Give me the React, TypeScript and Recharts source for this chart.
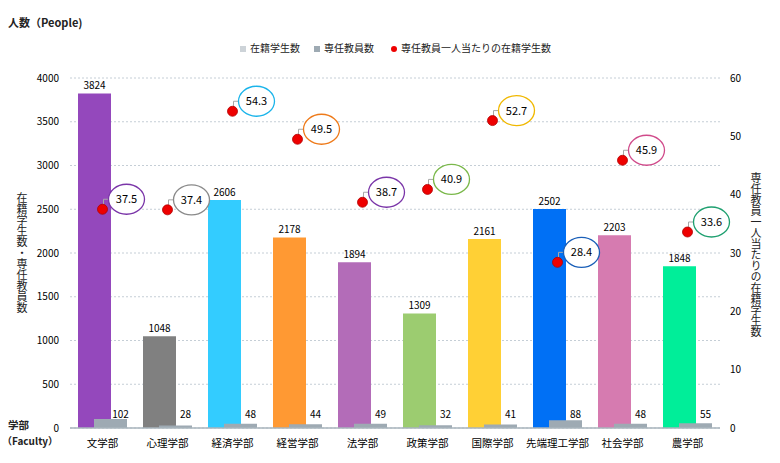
import React from 'react';
import { ComposedChart, Bar, Scatter, XAxis, YAxis, CartesianGrid, Cell, LabelList } from 'recharts';

const faculties = ['文学部', '心理学部', '経済学部', '経営学部', '法学部', '政策学部', '国際学部', '先端理工学部', '社会学部', '農学部'];
const students = [3824, 1048, 2606, 2178, 1894, 1309, 2161, 2502, 2203, 1848];
const staff = [102, 28, 48, 44, 49, 32, 41, 88, 48, 55];
const ratio = [37.5, 37.4, 54.3, 49.5, 38.7, 40.9, 52.7, 28.4, 45.9, 33.6];
const leftTicks = [0, 500, 1000, 1500, 2000, 2500, 3000, 3500, 4000];
const rightTicks = [0, 10, 20, 30, 40, 50, 60];

const barColors = ['#9448bc', '#808080', '#33ccff', '#ff9933', '#b36cb8', '#9ccc70', '#ffd035', '#0070f5', '#d67bb0', '#00ee99'];
const ringColors = ['#7a35a8', '#8a8a8a', '#1ab4ea', '#ee7a1a', '#7a35a8', '#7ab84a', '#f0b800', '#1a5fb8', '#d04a8a', '#1fa070'];

const data = faculties.map((name, i) => ({ name, students: students[i], staff: staff[i], ratio: ratio[i], idx: i }));

const FONT = '"Noto Sans CJK JP", "Noto Sans", sans-serif';

const StaffLabel = (props: any) => {
  const { x, y, width, height, value } = props;
  return (
    <text x={x + width / 2 + 10} y={y + height - 10} textAnchor="middle" fontSize={10} fill="#000" fontFamily={FONT}>
      {value}
    </text>
  );
};

const RatioShape = (props: any) => {
  const { cx, cy, payload } = props;
  const i = payload.idx;
  const ex = cx + 24;
  const ey = cy - 10;
  const rx = 18;
  const ry = 15;
  return (
    <g>
      <polyline points={`${cx + 1},${cy - 3} ${cx + 1},${cy - 10} ${ex - rx + 1},${cy - 10}`} fill="none" stroke="#a8a8a8" strokeWidth={1} />
      <circle cx={cx} cy={cy} r={5} fill="#ee0000" stroke="#b00000" strokeWidth={0.8} />
      <ellipse cx={ex} cy={ey} rx={rx} ry={ry} fill="#fff" stroke={ringColors[i]} strokeWidth={1.3} />
      <text x={ex} y={ey + 4} textAnchor="middle" fontSize={11} fill="#000" fontFamily={FONT}>
        {payload.ratio}
      </text>
    </g>
  );
};

export default function App() {
  return (
    <div style={{ position: 'absolute', left: 0, top: 0, width: 780, height: 463, background: '#fff', fontFamily: FONT }}>
      <div style={{ position: 'absolute', left: 8, top: 14, fontSize: 11, fontWeight: 700, color: '#222' }}>人数（People)</div>
      <div style={{ position: 'absolute', left: 0, top: 40, width: 780, height: 14, fontSize: 10, color: '#222' }}>
        <span style={{ position: 'absolute', left: 240, top: 0, whiteSpace: 'nowrap' }}>
          <span style={{ display: 'inline-block', width: 6, height: 6, background: '#cdd3d8', marginRight: 4 }} />在籍学生数
        </span>
        <span style={{ position: 'absolute', left: 314, top: 0, whiteSpace: 'nowrap' }}>
          <span style={{ display: 'inline-block', width: 6, height: 6, background: '#9eaab3', marginRight: 4 }} />専任教員数
        </span>
        <span style={{ position: 'absolute', left: 391, top: 0, whiteSpace: 'nowrap' }}>
          <span style={{ display: 'inline-block', width: 6, height: 6, borderRadius: 3, background: '#ee0000', marginRight: 4 }} />専任教員一人当たりの在籍学生数
        </span>
      </div>
      <div style={{ position: 'absolute', left: 16, top: 192, fontSize: 11, color: '#222', writingMode: 'vertical-rl', textOrientation: 'upright', lineHeight: '12px' }}>在籍学生数・専任教員数</div>
      <div style={{ position: 'absolute', left: 750, top: 172, fontSize: 11, color: '#222', writingMode: 'vertical-rl', textOrientation: 'upright', lineHeight: '12px' }}>専任教員一人当たりの在籍学生数</div>
      <div style={{ position: 'absolute', left: 8, top: 417, fontSize: 10.5, fontWeight: 700, color: '#222' }}>学部</div>
      <div style={{ position: 'absolute', left: 2, top: 433, fontSize: 10, fontWeight: 700, color: '#222', whiteSpace: 'nowrap' }}>（Faculty）</div>
      <ComposedChart
        width={780}
        height={463}
        data={data}
        margin={{ top: 78, right: 0, bottom: 0, left: 0 }}
        barGap={-17}
        barCategoryGap={16}
        style={{ position: 'absolute', left: 0, top: 0 }}
      >
        <CartesianGrid yAxisId="left" vertical={false} stroke="#c5ced6" strokeDasharray="2 2" />
        <XAxis
          dataKey="name"
          height={35}
          tickLine={false}
          axisLine={{ stroke: '#a9b4bd', strokeWidth: 1.5 }}
          tickMargin={6}
          interval={0}
          tick={{ fontSize: 10.5, fill: '#000', fontFamily: FONT }}
        />
        <YAxis
          yAxisId="left"
          width={70}
          domain={[0, 4000]}
          ticks={leftTicks}
          tickLine={false}
          axisLine={false}
          tickMargin={5}
          tick={{ fontSize: 10, fill: '#000', fontFamily: FONT }}
        />
        <YAxis
          yAxisId="right"
          orientation="right"
          width={60}
          domain={[0, 60]}
          ticks={rightTicks}
          tickLine={false}
          axisLine={false}
          tickMargin={4}
          tick={{ fontSize: 10, fill: '#000', fontFamily: FONT, textAnchor: 'start' }}
        />
        <Bar yAxisId="left" dataKey="students" barSize={33} isAnimationActive={false}>
          {data.map((d, i) => (
            <Cell key={d.name} fill={barColors[i]} />
          ))}
          <LabelList dataKey="students" position="top" offset={4} style={{ fontSize: 10, fill: '#000', fontFamily: FONT }} />
        </Bar>
        <Bar yAxisId="left" dataKey="staff" barSize={33} fill="#9eaab3" isAnimationActive={false}>
          <LabelList dataKey="staff" content={<StaffLabel />} />
        </Bar>
        <Scatter yAxisId="right" dataKey="ratio" shape={<RatioShape />} isAnimationActive={false} />
      </ComposedChart>
    </div>
  );
}
